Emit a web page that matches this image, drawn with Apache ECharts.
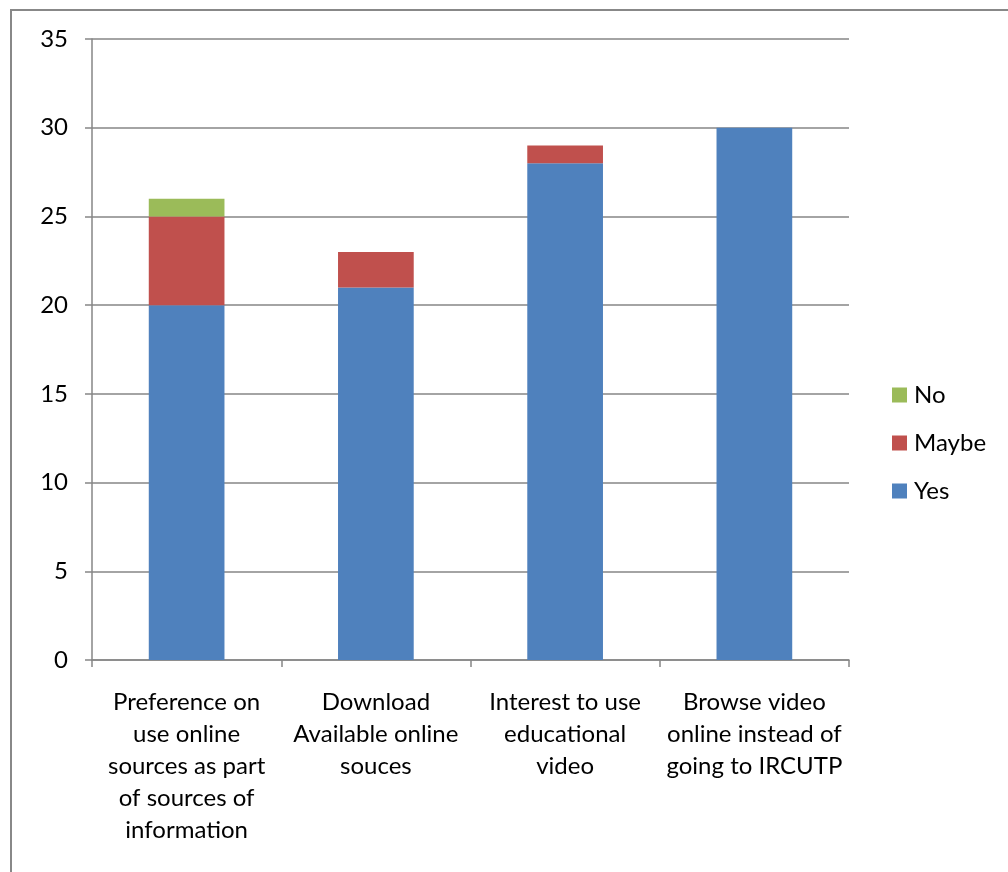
<!DOCTYPE html>
<html><head><meta charset="utf-8">
<script src="https://cdn.jsdelivr.net/npm/echarts@6/dist/echarts.min.js"></script>
<style>html,body{margin:0;padding:0;background:#fff}#c{width:1008px;height:872px}</style>
</head><body><div id="c"></div>
<script>
const categories = ["Preference on\nuse online\nsources as part\nof sources of\ninformation", "Download\nAvailable online\nsouces", "Interest to use\neducational\nvideo", "Browse video\nonline instead of\ngoing to IRCUTP"];
const yesValues = [20, 21, 28, 30];
const maybeValues = [5, 2, 1, 0];
const noValues = [1, 0, 0, 0];
const yTicks = [0, 5, 10, 15, 20, 25, 30, 35];

const chart = echarts.init(document.getElementById('c'), null, {renderer: 'canvas'});
const FONT = 'Lato';
const FS = 24;
const gray = '#868686';
chart.setOption({
  animation: false,
  textStyle: {fontFamily: FONT},
  graphic: [{type: 'rect', shape: {x: 11, y: 10, width: 1100, height: 1000}, style: {fill: 'none', stroke: '#888888', lineWidth: 2}, silent: true}],
  grid: {left: 92, top: 39, width: 757, height: 621, containLabel: false},
  legend: {
    orient: 'vertical', left: 892, top: 383, padding: 0, itemWidth: 15, itemHeight: 15, itemGap: 24,
    icon: 'rect', data: ['No', 'Maybe', 'Yes'],
    textStyle: {fontSize: FS, lineHeight: 24, color: '#000', fontFamily: FONT, padding: [0, 0, 0, 2]}
  },
  xAxis: {
    type: 'category', data: categories,
    axisLine: {lineStyle: {color: gray, width: 1.5}},
    axisTick: {show: true, alignWithLabel: false, length: 7, lineStyle: {color: gray, width: 1.5}},
    axisLabel: {fontSize: FS, color: '#000', lineHeight: 32, margin: 26, interval: 0, align: 'center', verticalAlign: 'top'}
  },
  yAxis: {
    type: 'value', min: yTicks[0], max: yTicks[yTicks.length - 1], interval: 5,
    axisLine: {show: true, lineStyle: {color: gray, width: 1.5}},
    axisTick: {show: true, length: 7, inside: false, lineStyle: {color: gray, width: 1.5}},
    axisLabel: {fontSize: FS, color: '#000', margin: 24},
    splitLine: {lineStyle: {color: gray, width: 1.5}}
  },
  series: [
    {name: 'Yes', type: 'bar', stack: 's', data: yesValues, barWidth: '40%', itemStyle: {color: '#4f81bd'}},
    {name: 'Maybe', type: 'bar', stack: 's', data: maybeValues, barWidth: '40%', itemStyle: {color: '#c0504d'}},
    {name: 'No', type: 'bar', stack: 's', data: noValues, barWidth: '40%', itemStyle: {color: '#9bbb59'}}
  ]
});
</script></body></html>
